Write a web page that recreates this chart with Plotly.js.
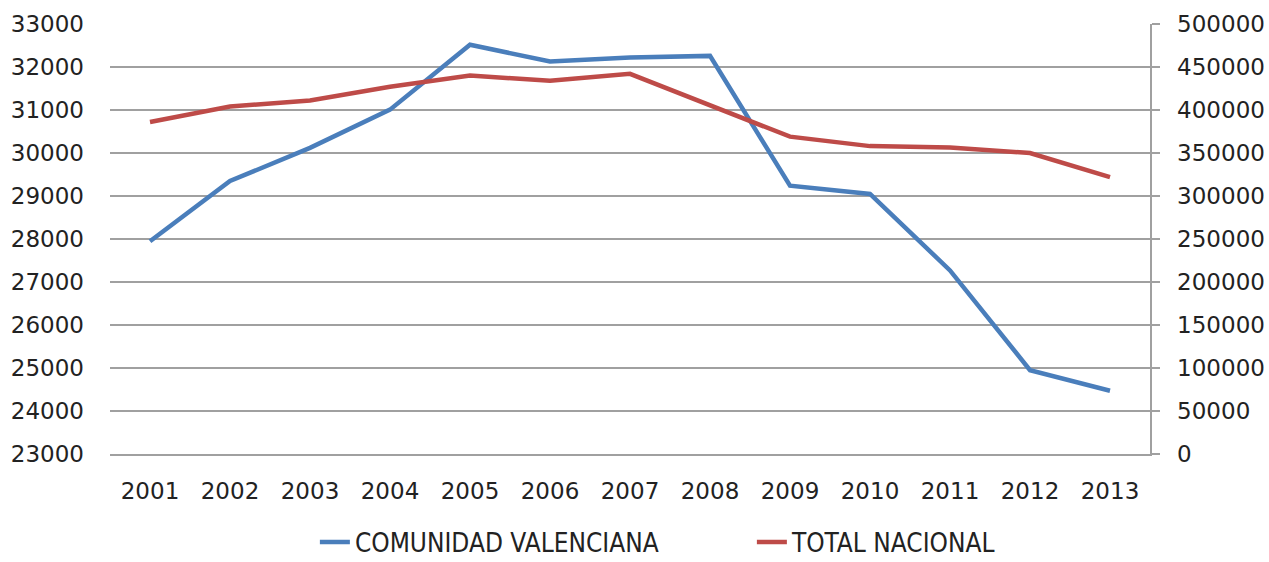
<!DOCTYPE html>
<html>
<head>
<meta charset="utf-8">
<script src="https://cdn.plot.ly/plotly-3.0.1.min.js"></script>
<style>html,body{margin:0;padding:0;background:#fff;}#chart{width:1269px;height:562px;}</style>
</head>
<body>
<div id="chart"></div>
<script>
const years = ["2001","2002","2003","2004","2005","2006","2007","2008","2009","2010","2011","2012","2013"];
const comunidadValenciana = [27950, 29350, 30120, 31010, 32520, 32130, 32220, 32260, 29240, 29050, 27270, 24950, 24470];
const totalNacional = [386000, 404000, 411000, 427000, 440000, 434000, 442000, 406000, 369000, 358000, 356500, 350000, 322000];
const seriesNames = ["COMUNIDAD VALENCIANA", "TOTAL NACIONAL"];

const tickFont = {family: "DejaVu Sans", size: 23, color: "#222"};

const traces = [
  {x: years, y: comunidadValenciana, name: seriesNames[0], type: "scatter", mode: "lines",
   line: {color: "#4a7ebb", width: 4.5}, yaxis: "y"},
  {x: years, y: totalNacional, name: seriesNames[1], type: "scatter", mode: "lines",
   line: {color: "#be4b48", width: 4.5}, yaxis: "y2"}
];

const layout = {
  width: 1269, height: 562,
  margin: {l: 110, r: 119, t: 24, b: 108, autoexpand: false},
  paper_bgcolor: "#fff", plot_bgcolor: "#fff",
  showlegend: true,
  legend: {orientation: "h", x: 0.197, xanchor: "left", y: -0.205, yanchor: "middle",
           font: {family: "DejaVu Sans Condensed, DejaVu Sans", size: 26, color: "#222"},
           entrywidth: 392, entrywidthmode: "pixels", bgcolor: "rgba(0,0,0,0)"},
  xaxis: {type: "category", range: [-0.5, 12.5], showgrid: false, zeroline: false,
          showline: true, linecolor: "#a0a0a0", linewidth: 1.5, ticks: "",
          tickfont: tickFont, ticklabelstandoff: 16},
  yaxis: {range: [23000, 33002], tickvals: [23000,24000,25000,26000,27000,28000,29000,30000,31000,32000,33000], tickformat: "d",
          showgrid: true, gridcolor: "#a0a0a0", gridwidth: 1.5, zeroline: false,
          showline: false, ticks: "", tickfont: tickFont, ticklabelstandoff: 25},
  yaxis2: {range: [0, 500000], dtick: 50000, tick0: 0, tickformat: "d", overlaying: "y", side: "right",
           showgrid: false, zeroline: false, showline: true, linecolor: "#a0a0a0", linewidth: 1.5,
           ticks: "outside", ticklen: 8, tickcolor: "#a0a0a0", tickwidth: 1.5, tickfont: tickFont,
           ticklabelstandoff: 13}
};

Plotly.newPlot("chart", traces, layout, {displayModeBar: false, staticPlot: true});
</script>
</body>
</html>
